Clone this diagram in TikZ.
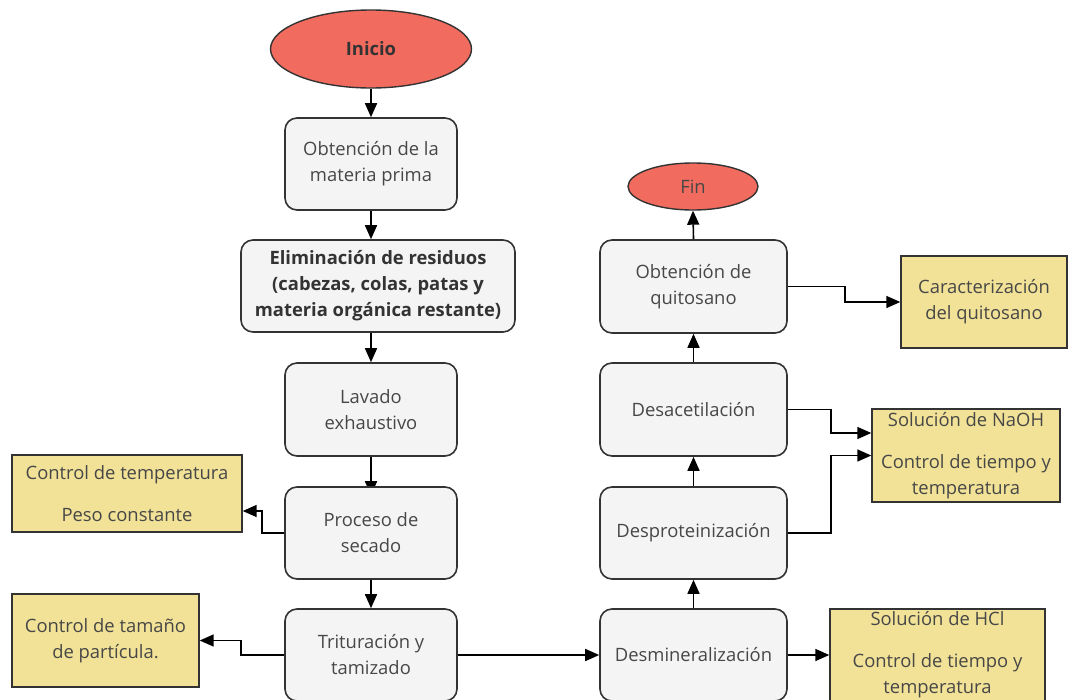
\documentclass[tikz,border=0pt]{standalone}
\usepackage{fontspec}
\setmainfont{Open Sans}
\usetikzlibrary{shapes.geometric,arrows.meta,backgrounds}
\definecolor{redf}{HTML}{F26B5F}
\definecolor{yel}{HTML}{F1E297}
\definecolor{grayf}{HTML}{F4F4F4}
\definecolor{edgec}{HTML}{333333}
\definecolor{txt}{HTML}{474747}
\begin{document}
\begin{tikzpicture}[x=1pt,y=-1pt,
  font=\fontsize{18.4}{26}\selectfont,
  proc/.style={draw=edgec, line width=1.6pt, fill=grayf, rounded corners=12pt, align=center, text=txt, inner sep=0pt},
  note/.style={draw=edgec, line width=1.4pt, fill=yel, align=center, text=txt, inner sep=0pt},
  term/.style={ellipse, draw=edgec, line width=1.4pt, fill=redf, inner sep=0pt},
  boldtxt/.style={font=\fontsize{18.4}{26}\selectfont\bfseries, text=edgec},
  arr/.style={line width=1.6pt, draw=black, -{Triangle[length=14pt,width=12pt]}}]
\useasboundingbox (0,0) rectangle (1068,699);

% left column
\node[term, boldtxt, minimum width=201pt, minimum height=78pt] (ini) at (371,49) {Inicio};
\node[proc, minimum width=172pt, minimum height=92pt] (obt) at (371,164) {Obtención de la\\materia prima};
\node[proc, boldtxt, minimum width=274pt, minimum height=92pt] (eli) at (378,286) {Eliminación de residuos\\(cabezas, colas, patas y\\materia orgánica restante)};
\node[proc, minimum width=172pt, minimum height=93pt] (lav) at (371,409.5) {Lavado\\exhaustivo};
\node[proc, minimum width=172pt, minimum height=92pt] (sec) at (371,533) {Proceso de\\secado};
\node[proc, minimum width=172pt, minimum height=92pt] (tri) at (371,655) {Trituración y\\tamizado};

\node[note, minimum width=230pt, minimum height=77pt] (ctemp) at (127,493.5) {Control de temperatura\\[16pt]Peso constante};
\node[note, minimum width=187pt, minimum height=93pt] (ctam) at (105.5,640.5) {Control de tamaño\\de partícula.};

% right column
\node[proc, minimum width=187pt, minimum height=92pt] (dem) at (693.5,655) {Desmineralización};
\node[proc, minimum width=187pt, minimum height=92pt] (dep) at (693.5,533) {Desproteinización};
\node[proc, minimum width=187pt, minimum height=93pt] (des) at (693.5,409.5) {Desacetilación};
\node[proc, minimum width=187pt, minimum height=93pt] (oq) at (693.5,286.5) {Obtención de\\quitosano};
\node[term, text=txt, minimum width=130pt, minimum height=47pt] (fin) at (693,186.5) {Fin};

\node[note, minimum width=166pt, minimum height=92pt] (car) at (984,302) {Caracterización\\del quitosano};
\node[note, minimum width=188pt, minimum height=93pt] (naoh) at (966,455.5) {Solución de NaOH\\[16pt]Control de tiempo y\\temperatura};
\node[note, minimum width=215pt, minimum height=92pt] (hcl) at (937.5,655) {Solución de HCl\\[16pt]Control de tiempo y\\temperatura};

% connectors
\draw[arr] (ini) -- (obt);
\draw[arr] (obt.south) -- (obt.south |- eli.north);
\draw[arr] (lav.north |- eli.south) -- (lav.north);
\begin{pgfonlayer}{background}
\draw[arr, shorten >=-9pt] (lav) -- (sec);
\end{pgfonlayer}
\draw[arr] (sec) -- (tri);
\draw[arr] (sec.west) -- ++(-22,0) |- ([yshift=-17.5pt]ctemp.east);
\draw[arr] (tri.west) -- ++(-43,0) |- (ctam.east);
\draw[arr] (tri) -- (dem);
\draw[arr] (dem) -- (dep);
\draw[arr] (dep) -- (des);
\draw[arr] (des) -- (oq);
\draw[arr] (oq.north) -- (fin.south);
\draw[arr] (oq.east) -- ++(57,0) |- (car.west);
\draw[arr] (des.east) -- ++(43,0) |- ([yshift=22.5pt]naoh.west);
\draw[arr] (dep.east) -- ++(43,0) |- (naoh.west);
\draw[arr] (dem) -- (hcl);
\end{tikzpicture}
\end{document}
